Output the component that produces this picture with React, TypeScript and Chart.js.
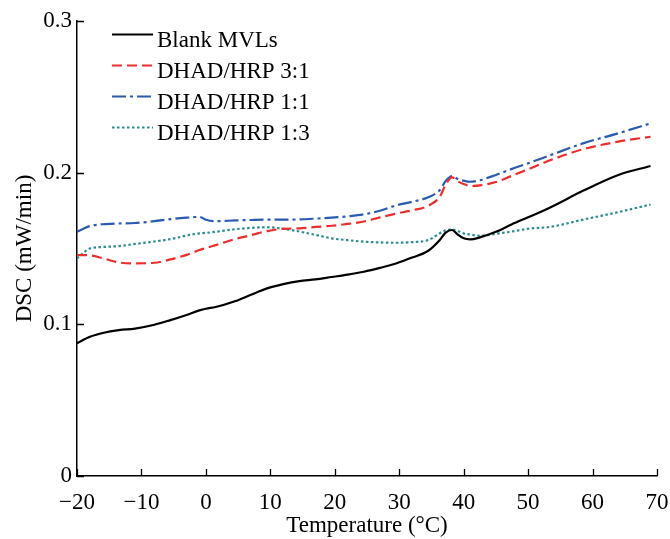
import React, { useEffect, useRef } from "react";
import { Chart, registerables } from "chart.js";
Chart.register(...registerables);

const temps = [-20, -18, -16, -13.5, -11, -8, -5.5, -3, -1, 0, 1.5, 4.5, 7, 9.5, 12, 14.5, 17, 19.5, 22, 24.5, 27, 29.5, 32, 34.5, 36.3, 37.2, 38.2, 39, 40, 41, 42.5, 45, 47.5, 50, 53.5, 58.5, 64, 69];

const blankMVLs = [0.0875, 0.0918, 0.0943, 0.0962, 0.0972, 0.0997, 0.1028, 0.1062, 0.1092, 0.1103, 0.1114, 0.1152, 0.1195, 0.1237, 0.1265, 0.1285, 0.1296, 0.1312, 0.1328, 0.1347, 0.1372, 0.1401, 0.144, 0.1485, 0.1556, 0.1605, 0.1622, 0.1595, 0.1567, 0.156, 0.1573, 0.161, 0.166, 0.1706, 0.1772, 0.188, 0.1985, 0.2044];

const ratio31 = [0.1457, 0.1455, 0.1436, 0.1408, 0.1402, 0.1406, 0.1428, 0.1458, 0.149, 0.1503, 0.1522, 0.1562, 0.1588, 0.1615, 0.163, 0.1633, 0.1642, 0.165, 0.1662, 0.1678, 0.1705, 0.173, 0.1752, 0.1782, 0.1841, 0.192, 0.1969, 0.1945, 0.1925, 0.1912, 0.1916, 0.1938, 0.198, 0.2022, 0.2083, 0.2154, 0.2205, 0.2237];

const ratio11 = [0.161, 0.1648, 0.166, 0.1665, 0.1668, 0.168, 0.1694, 0.1703, 0.1708, 0.169, 0.168, 0.1685, 0.1688, 0.169, 0.169, 0.1692, 0.1697, 0.1703, 0.1712, 0.1725, 0.1749, 0.1784, 0.1808, 0.1838, 0.1885, 0.1945, 0.1978, 0.196, 0.1947, 0.194, 0.195, 0.1985, 0.2025, 0.2062, 0.2116, 0.2193, 0.226, 0.2325];

const ratio13 = [0.1435, 0.15, 0.151, 0.1516, 0.153, 0.1546, 0.1562, 0.1585, 0.16, 0.1603, 0.161, 0.1627, 0.1636, 0.164, 0.163, 0.1612, 0.159, 0.1567, 0.1555, 0.1545, 0.154, 0.1538, 0.1542, 0.1556, 0.16, 0.162, 0.1625, 0.1617, 0.16, 0.1592, 0.1584, 0.1597, 0.1612, 0.163, 0.1643, 0.169, 0.174, 0.179];

const seriesNames = ["Blank MVLs", "DHAD/HRP 3:1", "DHAD/HRP 1:1", "DHAD/HRP 1:3"];
const xTicks = [-20, -10, 0, 10, 20, 30, 40, 50, 60, 70];
const yTicks = [0, 0.1, 0.2, 0.3];
const xTitle = "Temperature (°C)";
const yTitle = "DSC (mW/min)";

const FONT = "'Liberation Serif', 'Times New Roman', serif";
const FS = 23;

const toPts = (ys: number[]) => temps.map((t, i) => ({ x: t, y: ys[i] }));

const tickPlugin = {
  id: "inwardTicks",
  afterDraw(chart: any) {
    const { ctx, chartArea, scales } = chart;
    ctx.save();
    ctx.strokeStyle = "#000";
    ctx.lineWidth = 1.3;
    ctx.beginPath();
    xTicks.forEach((v) => {
      const px = Math.round(scales.x.getPixelForValue(v)) + 0.5;
      ctx.moveTo(px, chartArea.bottom);
      ctx.lineTo(px, chartArea.bottom - 7);
    });
    yTicks.forEach((v) => {
      const py = Math.round(scales.y.getPixelForValue(v)) + 0.5;
      ctx.moveTo(chartArea.left, py);
      ctx.lineTo(chartArea.left + 7, py);
    });
    ctx.stroke();
    ctx.restore();
  },
};

const legendPlugin = {
  id: "insideLegend",
  afterDraw(chart: any) {
    const { ctx } = chart;
    chart.data.datasets.forEach((ds: any, i: number) => {
      const y = 34.5 + i * 31;
      ctx.save();
      ctx.strokeStyle = ds.borderColor;
      ctx.lineWidth = ds.borderWidth;
      ctx.setLineDash(ds.borderDash || []);
      ctx.beginPath();
      ctx.moveTo(112, y);
      ctx.lineTo(153, y);
      ctx.stroke();
      ctx.setLineDash([]);
      ctx.fillStyle = "#000";
      ctx.font = `${FS}px ${FONT}`;
      ctx.textBaseline = "alphabetic";
      ctx.textAlign = "left";
      ctx.fillText(ds.label, 157, y + 12);
      ctx.restore();
    });
  },
};

export default function App() {
  const ref = useRef<HTMLCanvasElement | null>(null);
  useEffect(() => {
    if (!ref.current) return;
    const common = { showLine: true, pointRadius: 0, borderWidth: 2.2, fill: false, cubicInterpolationMode: "monotone" as const };
    const chart = new Chart(ref.current, {
      type: "scatter",
      data: {
        datasets: [
          { ...common, label: seriesNames[0], data: toPts(blankMVLs), borderColor: "#000000", borderDash: [] },
          { ...common, label: seriesNames[1], data: toPts(ratio31), borderColor: "#ee2c2c", borderDash: [10, 5] },
          { ...common, label: seriesNames[2], data: toPts(ratio11), borderColor: "#2a5bb0", borderDash: [14, 4, 3, 4] },
          { ...common, label: seriesNames[3], data: toPts(ratio13), borderColor: "#2a8c8c", borderDash: [2.5, 2.5] },
        ],
      },
      options: {
        animation: false,
        responsive: false,
        layout: { padding: { top: 21, right: 13, left: 0, bottom: 0 } },
        plugins: { legend: { display: false }, tooltip: { enabled: false } },
        scales: {
          x: {
            type: "linear",
            min: -20,
            max: 70,
            afterBuildTicks: (s: any) => { s.ticks = xTicks.map((v) => ({ value: v })); },
            afterFit: (s: any) => { s.height = 63; s.paddingLeft = 0; s.paddingRight = 0; },
            ticks: {
              autoSkip: false,
              maxRotation: 0,
              padding: 13,
              color: "#000",
              font: { family: FONT, size: FS },
              callback: (v: any) => (v < 0 ? "\u2212" + Math.abs(v) : String(v)),
            },
            grid: { display: false, drawTicks: false },
            border: { display: true, color: "#000", width: 1.5 },
            title: { display: true, text: xTitle, color: "#000", font: { family: FONT, size: FS }, padding: { top: 0, bottom: -1 } },
          },
          y: {
            type: "linear",
            min: 0,
            max: 0.3,
            afterBuildTicks: (s: any) => { s.ticks = yTicks.map((v) => ({ value: v })); },
            afterFit: (s: any) => { s.width = 77; s.paddingTop = 0; s.paddingBottom = 0; },
            ticks: {
              autoSkip: false,
              padding: 5,
              color: "#000",
              font: { family: FONT, size: FS },
              callback: (v: any) => (v === 0 ? "0" : Number(v).toFixed(1)),
            },
            grid: { display: false, drawTicks: false },
            border: { display: true, color: "#000", width: 1.5 },
            title: { display: true, text: yTitle, color: "#000", font: { family: FONT, size: FS }, padding: { top: 11, bottom: 0 } },
          },
        },
      },
      plugins: [tickPlugin, legendPlugin],
    });
    return () => chart.destroy();
  }, []);
  return (
    <div style={{ position: "absolute", left: 0, top: 0, width: 670, height: 539, background: "#fff" }}>
      <canvas ref={ref} width={670} height={539} style={{ display: "block" }} />
    </div>
  );
}
